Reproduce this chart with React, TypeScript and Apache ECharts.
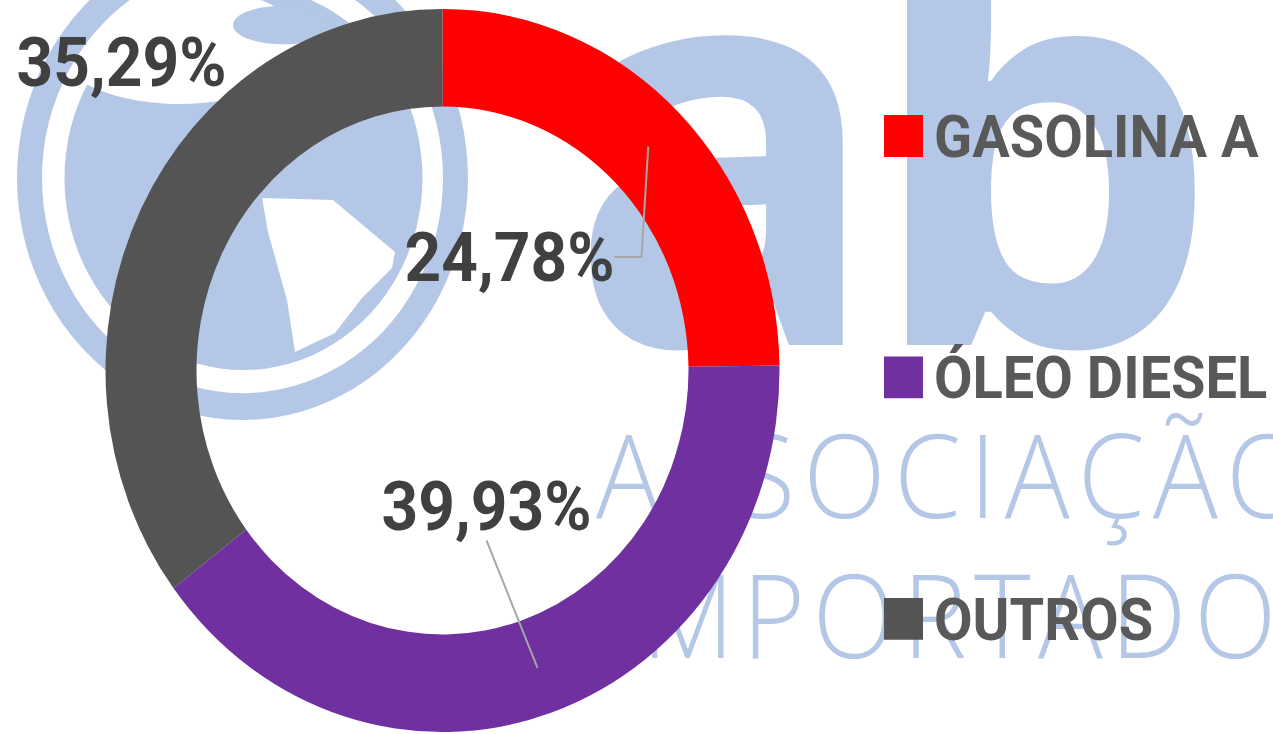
import React, { useEffect, useRef } from "react";
import * as echarts from "echarts";

// ---- data ----
const categories = ["GASOLINA A", "ÓLEO DIESEL", "OUTROS"];
const shares = [24.78, 39.93, 35.29];
const sliceColors = ["#FF0000", "#7030A0", "#545454"];
const watermarkWords = ["ASSOCIAÇÃO", "IMPORTADORES"];
const logoLetters = ["a", "b", "i"];

// ---- layout ----
const STRETCH = 1.073;
const WIDTH = 1273;
const HEIGHT = 734 / STRETCH;
const WM = "#B4C7E7";
const uy = (y: number) => y / STRETCH;

function formatShare(v: number) {
  return v.toFixed(2).replace(".", ",") + "%";
}

function buildWatermark() {
  const canvas = document.createElement("canvas");
  const ctx = canvas.getContext("2d") as CanvasRenderingContext2D;
  const els: any[] = [];
  const gx = 242.5;
  const gy = uy(178);
  els.push({ type: "circle", silent: true, shape: { cx: gx + 1, cy: gy, r: 179 }, style: { fill: WM } });
  els.push({ type: "ellipse", silent: true, shape: { cx: 180, cy: uy(45), rx: 125, ry: 55 }, style: { fill: "#fff" } });
  els.push({ type: "ellipse", silent: true, shape: { cx: 283, cy: uy(25), rx: 50, ry: 18 }, style: { fill: WM } });
  const sa = [[262, 198], [333, 200], [395, 252], [392, 268], [362, 298], [335, 333], [295, 352], [287, 300], [268, 232]];
  els.push({ type: "polygon", silent: true, shape: { points: sa.map(([x, y]) => [x, uy(y)]) }, style: { fill: "#fff" } });
  els.push({ type: "ring", silent: true, shape: { cx: gx, cy: gy, r: 225.5, r0: 200.5 }, style: { fill: WM } });

  const logoSize = 518;
  const logoFont = `bold ${logoSize}px "Open Sans"`;
  const logoLefts = [585, 907, 1266];
  const logoScales = [1, 1.09, 1];
  ctx.font = logoFont;
  logoLetters.forEach((ch, i) => {
    const m = ctx.measureText(ch);
    const bearing = Math.abs(m.actualBoundingBoxLeft || 0);
    els.push({
      type: "text",
      silent: true,
      x: logoLefts[i] - bearing * logoScales[i],
      y: 321.5 - 0.388 * logoSize,
      scaleX: logoScales[i],
      style: {
        text: ch, fill: WM, fontSize: logoSize, fontWeight: "bold", fontFamily: "Open Sans",
        textAlign: "left", textVerticalAlign: "middle", align: "left", verticalAlign: "middle",
      },
    });
  });

  const wordSize = 108;
  const wordFont = `300 ${wordSize}px "Open Sans"`;
  ctx.font = wordFont;
  const spaced = (word: string, iA: number, leftA: number, iB: number, leftB: number, y: number) => {
    const chars = Array.from(word);
    const w = chars.map((c) => ctx.measureText(c).width);
    let sumAB = 0;
    for (let k = iA; k < iB; k++) sumAB += w[k];
    const spacing = (leftB - leftA - sumAB) / (iB - iA);
    let offA = 0;
    for (let k = 0; k < iA; k++) offA += w[k] + spacing;
    let x = leftA - offA;
    chars.forEach((c, k) => {
      els.push({
        type: "text",
        silent: true,
        x,
        y,
        style: {
          text: c, fill: WM, fontSize: wordSize, fontWeight: 300, fontFamily: "Open Sans",
          textAlign: "left", textVerticalAlign: "middle", align: "left", verticalAlign: "middle",
        },
      });
      x += w[k] + spacing;
    });
  };
  spaced(watermarkWords[0], 0, 596, 8, 1153, uy(476.5) - 3);
  spaced(watermarkWords[1], 2, 742, 8, 1194, uy(616.5) - 3);
  return els;
}

const labelSpots: number[][] = [
  [509.5, uy(257)],
  [486.5, uy(506)],
  [121.5, uy(62)],
];

export default function App() {
  const ref = useRef<HTMLDivElement>(null);
  useEffect(() => {
    if (!ref.current) return;
    const chart = echarts.init(ref.current, undefined, { renderer: "svg", width: WIDTH, height: HEIGHT });
    const center = [442.5, uy(370.5)];
    const option: any = {
      animation: false,
      backgroundColor: "#ffffff",
      graphic: { elements: buildWatermark() },
      legend: {
        orient: "vertical",
        left: 884,
        top: uy(136) - 28,
        padding: 0,
        itemWidth: 39,
        itemHeight: 39,
        itemGap: 169,
        icon: "rect",
        selectedMode: false,
        data: categories,
        textStyle: {
          color: "#595959", fontSize: 56, fontWeight: "bold", fontFamily: "Roboto",
          lineHeight: 56, padding: [0, 0, 0, 6],
        },
      },
      series: [
        {
          type: "pie",
          name: "ring",
          z: 2,
          center,
          radius: [246, 337],
          startAngle: 90,
          clockwise: true,
          silent: true,
          emphasis: { disabled: true },
          label: { show: false },
          labelLine: { show: false },
          itemStyle: { borderWidth: 0 },
          data: categories.map((n, i) => ({ name: n, value: shares[i], itemStyle: { color: sliceColors[i] } })),
        },
        {
          type: "pie",
          name: "labels",
          z: 5,
          center,
          radius: [0, 293],
          startAngle: 90,
          clockwise: true,
          silent: true,
          emphasis: { disabled: true },
          itemStyle: { color: "rgba(0,0,0,0)", borderWidth: 0 },
          label: {
            show: true,
            position: "outside",
            overflow: "none",
            formatter: (p: any) => formatShare(p.value),
            color: "#404040",
            fontSize: 64,
            fontWeight: "bold",
            fontFamily: "Roboto",
          },
          labelLine: { show: true, length: 5, length2: 0, lineStyle: { color: "#A6A6A6", width: 2 } },
          labelLayout: (p: any) => {
            const s = labelSpots[p.dataIndex];
            return { x: s[0], y: s[1], align: "center", verticalAlign: "middle" };
          },
          data: categories.map((n, i) => ({
            name: n,
            value: shares[i],
            label: i === 2 ? { width: 230 } : {},
            labelLine: { show: i !== 2, length2: i === 0 ? 27 : 0 },
          })),
        },
      ],
    };
    chart.setOption(option);
    return () => chart.dispose();
  }, []);
  return (
    <div
      ref={ref}
      style={{
        position: "fixed",
        left: 0,
        top: 0,
        width: WIDTH,
        height: HEIGHT,
        transform: `scaleY(${STRETCH})`,
        transformOrigin: "0 0",
      }}
    />
  );
}
